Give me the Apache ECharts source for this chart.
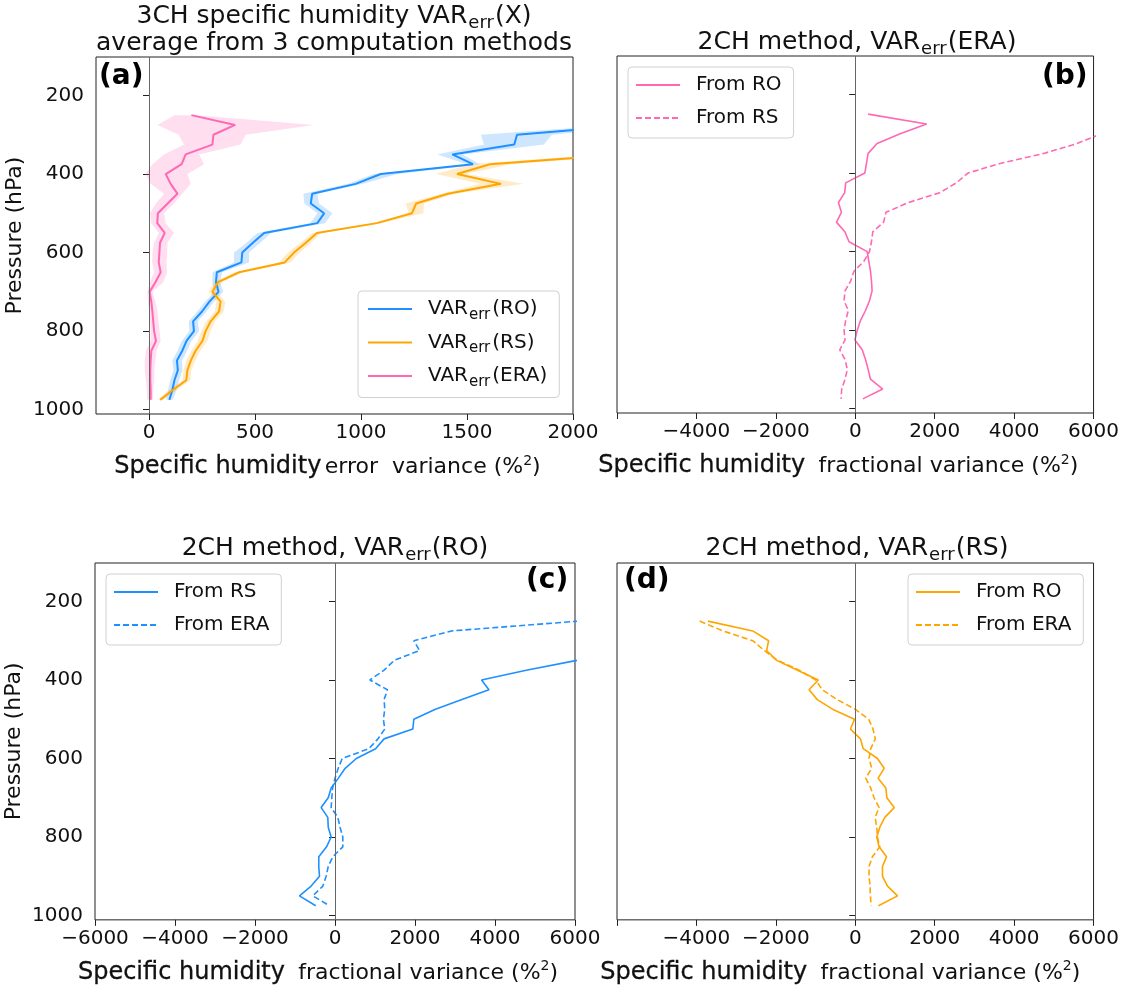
<!DOCTYPE html>
<html>
<head>
<meta charset="utf-8">
<script src="https://cdn.jsdelivr.net/npm/echarts@6/dist/echarts.min.js"></script>
<style>
html,body{margin:0;padding:0;background:#fff;}
#chart{width:1122px;height:986px;}
</style>
</head>
<body>
<div id="chart"></div>
<script>
// ---------- data ----------
const pressure = [250,275,300,325,350,375,400,425,450,475,500,525,550,575,600,625,650,675,700,725,750,775,800,825,850,875,900,925,950,975];
const yTicks = [200,400,600,800,1000];
const xTicksA = [0,500,1000,1500,2000];
const xTicksWide = [-6000,-4000,-2000,0,2000,4000,6000];
const xLabelsBD = [-4000,-2000,0,2000,4000,6000];

// (a) 3CH error variance (mean of 3 methods) and spread
const aRO    = [2600,2300,1736,1723,1431,1528,1093,975,770,763,826,794,543,490,440,436,320,316,328,285,250,208,212,177,157,132,136,120,110,96];
const aRO_lo = [2500,2200,1565,1580,1360,1500,1060,940,728,733,794,760,511,460,401,401,300,298,308,265,228,188,190,155,135,110,115,100,90,80];
const aRO_hi = [2700,2400,1900,1863,1480,1560,1172,1010,794,802,865,830,575,525,472,472,345,335,350,305,272,230,236,200,180,155,158,142,130,112];
const aRS    = [3200,3000,2800,2500,2230,1608,1453,1660,1410,1260,1240,1075,792,740,684,640,425,326,299,338,330,291,267,252,220,197,181,176,112,53];
const aRS_lo = [3100,2900,2700,2400,2130,1517,1352,1565,1380,1211,1225,1055,770,715,655,612,405,305,282,318,310,270,246,230,200,177,162,158,95,40];
const aRS_hi = [3300,3100,2900,2600,2330,1706,1494,1769,1440,1297,1294,1095,812,765,712,668,445,345,318,360,352,312,290,275,242,218,200,195,130,68];
const aERA    = [200,406,304,299,173,154,79,102,134,88,42,39,74,52,49,46,55,31,3,11,16,20,24,33,11,8,6,6,8,8];
const aERA_lo = [120,40,140,165,71,16,-16,8,71,32,5,11,47,24,16,15,24,5,-8,-5,0,5,8,8,-15,-20,-20,-15,-10,-8];
const aERA_hi = [225,778,456,432,236,260,181,197,157,118,71,79,118,87,86,82,86,68,16,30,40,45,50,55,35,30,25,25,20,18];

// (b) 2CH VAR_err(ERA)
const bFromRO = [324,1797,1131,549,324,283,241,-241,-266,-424,-349,-474,-258,-158,300,341,383,408,424,358,258,133,50,-8,175,258,324,383,690,191];
const bFromRS = [7400,6800,6200,5582,4750,3669,2837,2546,2130,1339,774,715,441,408,358,216,-33,-116,-258,-283,-175,-241,-283,-258,-391,-258,-200,-258,-341,-358];

// (c) 2CH VAR_err(RO)
const cFromRS  = [8000,7600,7200,6800,6050,4780,3663,3849,3173,2496,1971,1946,1227,1015,533,254,85,-96,-169,-346,-180,-169,-96,-211,-405,-406,-388,-596,-888,-482];
const cFromERA = [6100,2919,1971,2115,1481,1227,871,1311,1227,1244,1210,1244,1074,846,180,80,0,-59,-80,-96,71,127,195,196,-54,-169,-221,-304,-555,-138];

// (d) 2CH VAR_err(RS)
const dFromRO  = [-3710,-2583,-2182,-2233,-1982,-1456,-931,-1164,-956,-563,-20,-120,130,200,558,728,575,770,795,981,744,618,541,600,787,685,685,812,1066,584];
const dFromERA = [-3917,-3334,-2583,-2290,-1957,-1414,-996,-831,-456,5,338,446,505,389,347,415,262,389,474,601,499,541,558,618,431,347,347,372,381,398];

// ---------- style ----------
const FONT = 'DejaVu Sans';
const BLUE = '#1E90FF', ORANGE = '#FFA500', PINK = '#FF69B4';
const fmtNum = v => (v < 0 ? '\u2212' + Math.abs(v) : String(v));

const chart = echarts.init(document.getElementById('chart'), null, {renderer: 'canvas'});

const grids = [
  {left: 96,  top: 57,  width: 477, height: 357},
  {left: 617, top: 56,  width: 480, height: 357},
  {left: 95,  top: 563, width: 480, height: 362},
  {left: 617, top: 563, width: 480, height: 362}
].map(g => Object.assign({show: true, borderColor: '#222', borderWidth: 1, backgroundColor: 'transparent', containLabel: false}, g));

const xNameRich = {
  h: {fontFamily: FONT, fontSize: 24, color: '#111', textBorderColor: '#111', textBorderWidth: 0.3},
  t: {fontFamily: FONT, fontSize: 22, color: '#111'},
  sup: {fontFamily: FONT, fontSize: 14, color: '#111', padding: [0, 0, 12, 0]}
};

function xAxisDef(idx, min, max, ticks, labels, name, padRight) {
  return {
    gridIndex: idx, type: 'value', min: min, max: max,
    axisLine: {show: false},
    axisTick: {show: true, length: 6, inside: false, customValues: ticks, lineStyle: {color: '#222', width: 1}},
    axisLabel: {show: true, customValues: labels, formatter: fmtNum, fontFamily: FONT, fontSize: 20, color: '#111', margin: 9},
    splitLine: {show: false},
    name: name, nameLocation: 'middle', nameGap: 40,
    nameTextStyle: {rich: xNameRich, padding: [0, padRight, 0, 0]}
  };
}
function yAxisDef(idx, showLabels) {
  return {
    gridIndex: idx, type: 'value', inverse: true, min: 102, max: 1011,
    axisLine: {show: false},
    axisTick: {show: true, length: 6, customValues: yTicks, lineStyle: {color: '#222', width: 1}},
    axisLabel: {show: showLabels, customValues: yTicks, formatter: v => String(v), fontFamily: FONT, fontSize: 20, color: '#111', margin: 12},
    splitLine: {show: false},
    name: showLabels ? 'Pressure (hPa)' : '',
    nameLocation: 'middle', nameRotate: 90, nameGap: 70,
    nameTextStyle: {fontFamily: FONT, fontSize: 22, color: '#111'}
  };
}

const nameA = '{h|Specific humidity} {t|error  variance (%}{sup|2}{t|)}';
const nameF = '{h|Specific humidity}    {t|fractional variance (%}{sup|2}{t|)}';

const xAxes = [
  xAxisDef(0, -250, 2000, xTicksA, xTicksA, nameA, 14),
  xAxisDef(1, -6000, 6000, xTicksWide, xLabelsBD, nameF, 34),
  xAxisDef(2, -6000, 6000, xTicksWide, xTicksWide, nameF, 34),
  xAxisDef(3, -6000, 6000, xTicksWide, xLabelsBD, nameF, 30)
];
const yAxes = [yAxisDef(0, true), yAxisDef(1, false), yAxisDef(2, true), yAxisDef(3, false)];

const pts = arr => pressure.map((p, i) => [arr[i], p]);

function band(idx, lo, hi, color) {
  return {
    type: 'custom', xAxisIndex: idx, yAxisIndex: idx, clip: true, silent: true, z: 1,
    data: pressure.map((p, i) => [lo[i], p]),
    encode: {x: 0, y: 1},
    renderItem: function (params, api) {
      if (params.dataIndex !== 0) return null;
      const points = [];
      for (let i = 0; i < pressure.length; i++) points.push(api.coord([lo[i], pressure[i]]));
      for (let i = pressure.length - 1; i >= 0; i--) points.push(api.coord([hi[i], pressure[i]]));
      return {type: 'polygon', shape: {points: points}, style: {fill: color, stroke: null}};
    }
  };
}
function line(idx, name, arr, color, width, dashed, zero) {
  const s = {
    type: 'line', name: name, xAxisIndex: idx, yAxisIndex: idx,
    data: pts(arr), symbol: 'none', showSymbol: false, clip: true, z: 3,
    lineStyle: {color: color, width: width, type: dashed ? [6, 3] : 'solid'},
    itemStyle: {color: color}, emphasis: {disabled: true}
  };
  if (zero) {
    s.markLine = {silent: true, symbol: 'none', label: {show: false}, animation: false,
      lineStyle: {color: '#666', width: 1, type: 'solid'}, data: [{xAxis: 0}]};
  }
  return s;
}

const series = [
  band(0, aRO_lo, aRO_hi, 'rgba(30,144,255,0.22)'),
  band(0, aRS_lo, aRS_hi, 'rgba(255,165,0,0.22)'),
  band(0, aERA_lo, aERA_hi, 'rgba(255,105,180,0.22)'),
  line(0, 'aRO', aRO, BLUE, 2, false, true),
  line(0, 'aRS', aRS, ORANGE, 2, false, false),
  line(0, 'aERA', aERA, PINK, 2, false, false),
  line(1, 'bRO', bFromRO, PINK, 1.6, false, true),
  line(1, 'bRS', bFromRS, PINK, 1.6, true, false),
  line(2, 'cRS', cFromRS, BLUE, 1.6, false, true),
  line(2, 'cERA', cFromERA, BLUE, 1.6, true, false),
  line(3, 'dRO', dFromRO, ORANGE, 1.6, false, true),
  line(3, 'dERA', dFromERA, ORANGE, 1.6, true, false)
];

const legendLabels = {
  aRO: '{n0|VAR}{s|err}{n|(RO)}', aRS: '{n0|VAR}{s|err}{n|(RS)}', aERA: '{n0|VAR}{s|err}{n|(ERA)}',
  bRO: '{n0|From RO}', bRS: '{n0|From RS}',
  cRS: '{n0|From RS}', cERA: '{n0|From ERA}',
  dRO: '{n0|From RO}', dERA: '{n0|From ERA}'
};
const legRich = {
  n0: {fontFamily: FONT, fontSize: 20, color: '#111', padding: [0, 0, 0, 11]},
  n: {fontFamily: FONT, fontSize: 20, color: '#111'},
  s: {fontFamily: FONT, fontSize: 15, color: '#111', padding: [12, 2, 0, 1]}
};
function legend(names, left, top, gap, pad) {
  return {
    data: names, left: left, top: top, orient: 'vertical', selectedMode: false,
    itemWidth: 44, itemHeight: 14, itemGap: gap, padding: pad,
    itemStyle: {opacity: 0},
    borderColor: '#d0d0d0', borderWidth: 1, borderRadius: 4, backgroundColor: 'rgba(255,255,255,0.85)',
    formatter: n => legendLabels[n], textStyle: {rich: legRich, fontFamily: FONT, fontSize: 20}
  };
}

const titleRich = {
  n: {fontFamily: FONT, fontSize: 25, color: '#111'},
  s: {fontFamily: FONT, fontSize: 18, color: '#111', padding: [14, 1, 0, 1]}
};
function title(text, x, y) {
  return {text: text, left: x, top: y, textAlign: 'center', padding: 0,
    textStyle: {rich: titleRich, fontFamily: FONT, fontSize: 25, fontWeight: 'normal', color: '#111'}};
}

const option = {
  animation: false,
  backgroundColor: '#fff',
  title: [
    title('{n|3CH specific humidity VAR}{s|err}{n|(X)}', 334, 0),
    title('{n|average from 3 computation methods}', 334, 31),
    title('{n|2CH method, VAR}{s|err}{n|(ERA)}', 857, 26),
    title('{n|2CH method, VAR}{s|err}{n|(RO)}', 335, 532),
    title('{n|2CH method, VAR}{s|err}{n|(RS)}', 857, 532)
  ],
  legend: [
    legend(['aRO', 'aRS', 'aERA'], 358, 291, 10, [8, 12, 8, 9]),
    legend(['bRO', 'bRS'], 628, 67, 13, [8, 12, 10, 7]),
    legend(['cRS', 'cERA'], 106, 574, 13, [8, 12, 10, 7]),
    legend(['dRO', 'dERA'], 908, 574, 13, [8, 12, 10, 7])
  ],
  grid: grids,
  xAxis: xAxes,
  yAxis: yAxes,
  series: series,
  graphic: [
    {type: 'text', left: 99, top: 63, style: {text: '(a)', font: 'bold 28px "DejaVu Sans"', fill: '#000'}},
    {type: 'text', left: 1042, top: 63, style: {text: '(b)', font: 'bold 28px "DejaVu Sans"', fill: '#000'}},
    {type: 'text', left: 526, top: 567, style: {text: '(c)', font: 'bold 28px "DejaVu Sans"', fill: '#000'}},
    {type: 'text', left: 624, top: 567, style: {text: '(d)', font: 'bold 28px "DejaVu Sans"', fill: '#000'}}
  ]
};
chart.setOption(option);
</script>
</body>
</html>
